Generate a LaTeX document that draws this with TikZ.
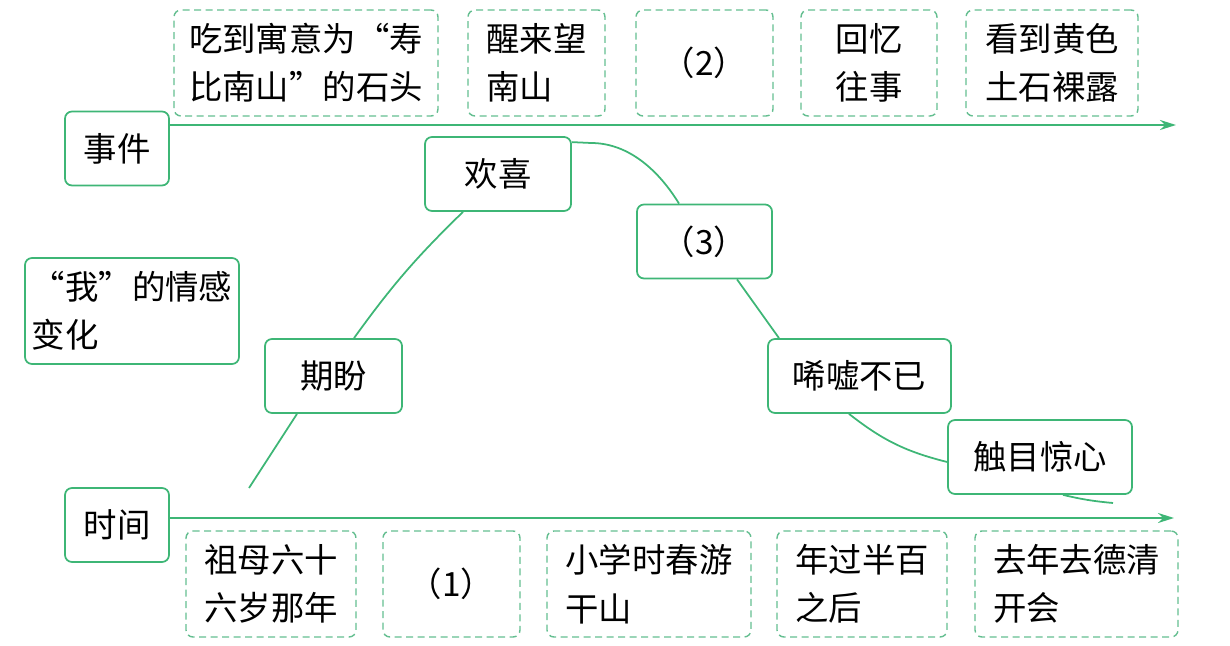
\documentclass[tikz,border=0pt]{standalone}
\usepackage{fontspec}
\setmainfont{Noto Sans CJK SC}
\usetikzlibrary{arrows.meta}
\definecolor{mapgreen}{RGB}{62,182,118}
\definecolor{dashgreen}{RGB}{100,190,144}

\begin{document}
\begin{tikzpicture}[
    box/.style={draw=mapgreen, line width=1pt, rounded corners=0.14cm, minimum height=1.48cm, align=left, font=\fontsize{19}{27.5}\selectfont},
    slot/.style={draw=dashgreen, line width=0.8pt, dash pattern=on 0.14cm off 0.09cm, rounded corners=0.14cm, minimum height=2.12cm, align=left, font=\fontsize{19}{27.5}\selectfont},
    axis/.style={mapgreen, line width=1.3pt, -{Stealth[length=0.32cm, width=0.2cm]}},
    link/.style={mapgreen, line width=1pt}
]
    \useasboundingbox (0,0) rectangle (24.6,12.9);

    % the two axes and their row labels
    \node [box, minimum width=2.08cm] (event) at (2.34,9.93) {事件};
    \node [box, minimum width=2.08cm] (time) at (2.34,2.40) {时间};
    \coordinate (topend) at (23.52,10.4);
    \coordinate (botend) at (23.48,2.54);
    \draw [axis] (event.east |- topend) -- (topend);
    \draw [axis] (time.east |- botend) -- (botend);

    % events above the top axis
    \node [slot, minimum width=5.28cm] (e1) at (6.12,11.64) {吃到寓意为“寿\\比南山”的石头};
    \node [slot, minimum width=2.74cm] (e2) at (10.73,11.64) {醒来望\\南山};
    \node [slot, minimum width=2.74cm] (e3) at (14.09,11.64) {（2）};
    \node [slot, minimum width=2.72cm] (e4) at (17.38,11.64) {回忆\\往事};
    \node [slot, minimum width=3.44cm] (e5) at (21.04,11.64) {看到黄色\\土石裸露};

    % times below the bottom axis
    \node [slot, minimum width=3.40cm] (t1) at (5.42,1.22) {祖母六十\\六岁那年};
    \node [slot, minimum width=2.74cm] (t2) at (9.03,1.22) {（1）};
    \node [slot, minimum width=4.08cm] (t3) at (12.98,1.22) {小学时春游\\干山};
    \node [slot, minimum width=3.40cm] (t4) at (17.24,1.22) {年过半百\\之后};
    \node [slot, minimum width=4.06cm] (t5) at (21.53,1.22) {去年去德清\\开会};

    % feelings along the curve
    \node [box, minimum width=4.28cm, minimum height=2.12cm] (feeling) at (2.64,6.68) {“我”的情感\\变化};
    \node [box, minimum width=2.74cm] (hope) at (6.67,5.38) {期盼};
    \node [box, minimum width=2.92cm] (joy) at (9.96,9.42) {欢喜};
    \node [box, minimum width=2.70cm] (q3) at (14.09,8.07) {（3）};
    \node [box, minimum width=3.66cm] (sigh) at (17.19,5.38) {唏嘘不已};
    \node [box, minimum width=3.68cm] (shock) at (20.80,3.76) {触目惊心};
    \coordinate (rise) at (4.98,3.14);
    \coordinate (fall) at (22.26,2.84);

    \draw [link] (rise) -- ([xshift=-0.73cm]hope.south);
    \draw [link] ([xshift=0.41cm]hope.north) to[bend left=5] ([xshift=-0.70cm]joy.south);
    \draw [link] ([yshift=-0.12cm]joy.north east) -- (11.82,10.04) .. controls (12.6,10.04) and (13.2,9.45) .. ([xshift=-0.51cm]q3.north);
    \draw [link] ([xshift=0.65cm]q3.south) -- ([xshift=-1.61cm]sigh.north);
    \draw [link] ([xshift=-0.21cm]sigh.south) to[bend right=12] ([yshift=-0.10cm]shock.west);
    \draw [link] ([xshift=0.46cm]shock.south) to[bend right=4] (fall);
\end{tikzpicture}
\end{document}
